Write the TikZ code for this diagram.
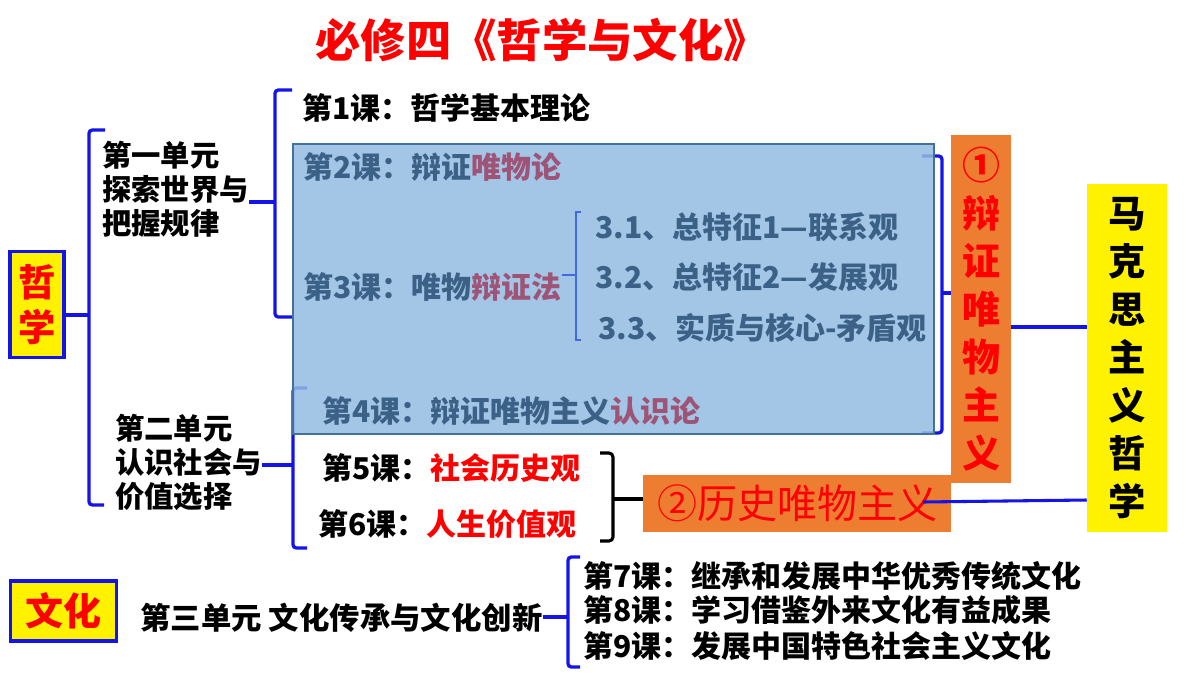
\documentclass[tikz,border=0pt]{standalone}
\usepackage{fontspec}
\setmainfont{Noto Sans CJK SC}
\definecolor{brblue}{RGB}{20,20,230}
\definecolor{ibrblue}{RGB}{65,105,225}
\definecolor{boxfill}{RGB}{149,189,226}
\definecolor{boxline}{RGB}{65,113,156}
\definecolor{slate}{RGB}{59,97,134}
\definecolor{mauve}{RGB}{158,84,118}
\definecolor{orng}{RGB}{237,125,49}
\newcommand\szf[2]{\fontsize{#1}{#2}\selectfont}
\begin{document}
\begin{tikzpicture}[x=0.75pt,y=-0.75pt,
  br/.style={draw=brblue, line width=2.5pt, rounded corners=2.5pt},
  ibrk/.style={draw=ibrblue, line width=1.6pt},
  blk/.style={draw=black, line width=2.3pt, rounded corners=3pt},
  conn/.style={draw=brblue, line width=2.3pt},
  lab/.style={inner sep=0pt, anchor=west, font=\bfseries\szf{22.5}{25.5}},
  inbox/.style={lab, text=slate},
  ybox/.style={fill=yellow, draw=brblue, line width=2.3pt, inner sep=0pt},
  obox/.style={fill=orng, inner sep=0pt}]
\useasboundingbox (0,0) rectangle (1200,675);
\fill[white] (0,0) rectangle (1200,675);

% title
\node[inner sep=0pt, text=red, font=\bfseries\szf{34}{38}] (title) at (542,40) {必修四《哲学与文化》};

% 哲学 box
\node[ybox, minimum width=40.5pt, minimum height=80pt, align=center, text=red, font=\bfseries\szf{28}{34}] (zx) at (37,304.5) {哲\\学};

% bracket 1
\draw[br] (105,130) -- (89,130) -- (89,505) -- (104,505);
\draw[conn] (zx.east |- 0,315) -- (89,315);

% unit 1
\node[lab, align=left, font=\bfseries\szf{22}{25.5}] (u1) at (102,189) {第一单元\\探索世界与\\把握规律};
\draw[br] (292,90) -- (275,90) -- (275,317) -- (292,317);
\draw[conn] (u1.east |- 0,202) -- (275,202);

% lesson 1
\node[lab] (l1) at (302,108) {第1课：哲学基本理论};

% brackets under the blue box
\draw[br] (307,388) -- (293,388) -- (293,548) -- (307,548);
\draw[br] (922,156) -- (942,156) -- (942,433) -- (922,433);

% blue box
\fill[boxfill, fill opacity=0.85] (293,144) rectangle (934,434);
\draw[boxline, line width=1.3pt] (293,144) rectangle (934,434);

\node[inbox] (l2) at (303,167) {第2课：辩证{\color{mauve}唯物论}};
\node[inbox] (l3) at (303,287) {第3课：唯物{\color{mauve}辩证法}};
\node[inbox] (l31) at (595,227) {3.1、总特征1—联系观};
\node[inbox] (l32) at (595,277) {3.2、总特征2—发展观};
\node[inbox] (l33) at (598,328) {3.3、实质与核心-矛盾观};
\node[inbox] (l4) at (322,411) {第4课：辩证唯物主义{\color{mauve}认识论}};
\draw[ibrk] (581,212) -- (576,212) -- (576,340) -- (581,340);
\draw[ibrk] (l3.east |- 0,275) -- (576,275);

% unit 2
\node[lab, align=left, font=\bfseries\szf{22}{25.5}] (u2) at (115,462) {第二单元\\认识社会与\\价值选择};
\draw[conn] (u2.east |- 0,465) -- (293,465);
\node[lab] (l5) at (322,468) {第5课：{\color{red}社会历史观}};
\node[lab] (l6) at (318,524) {第6课：{\color{red}人生价值观}};

% orange boxes
\node[obox, minimum width=231pt, minimum height=42.75pt, text=red, font=\szf{30}{34}] (z2) at (797,503.5) {②历史唯物主义};
\node[obox, minimum width=45pt, minimum height=261pt, align=center, text=red, font=\bfseries\szf{28.5}{36}] (z1) at (981,309) {①\\辩\\证\\唯\\物\\主\\义};
\draw[conn] (942,293) -- (z1.west |- 0,293);

% black brace
\draw[blk] (600,453) -- (613,453) -- (613,541) -- (600,541);
\draw[blk] (613,499) -- (z2.west |- 0,499);

% Marxist philosophy
\node[fill=yellow, inner sep=0pt, minimum width=60pt, minimum height=261pt, align=center, font=\bfseries\szf{28}{36}] (mk) at (1127,358) {马\\克\\思\\主\\义\\哲\\学};
\draw[conn] (z1.east |- 0,327) -- (mk.west |- 0,327);
\coordinate (c2) at (923,502);
\draw[conn] (c2) -- (mk.west |- 0,500);

% culture
\node[ybox, minimum width=80pt, minimum height=45pt, text=red, font=\bfseries\szf{28.5}{32}] (wh) at (63.5,611) {文化};
\node[lab, font=\bfseries\szf{22.8}{26}] (u3) at (140,618) {第三单元 文化传承与文化创新};
\draw[conn] (u3.east |- 0,617) -- (568,617);
\draw[br] (580,557) -- (568,557) -- (568,667) -- (580,667);
\node[lab] (l7) at (583,576) {第7课：继承和发展中华优秀传统文化};
\node[lab] (l8) at (583,610) {第8课：学习借鉴外来文化有益成果};
\node[lab] (l9) at (583,646) {第9课：发展中国特色社会主义文化};
\end{tikzpicture}
\end{document}
